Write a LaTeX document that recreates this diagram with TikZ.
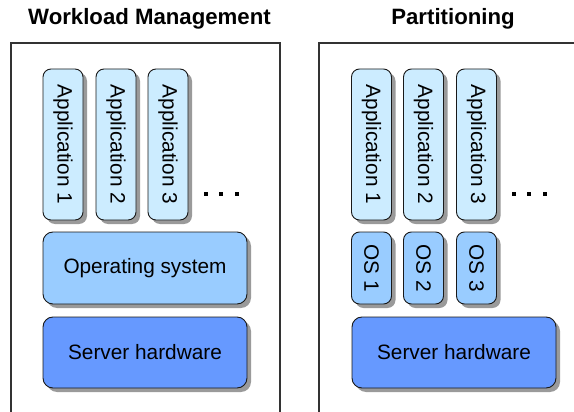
\documentclass[tikz,border=0pt]{standalone}
\usepackage{fontspec}
\setmainfont{Liberation Sans}
\usetikzlibrary{shadows}
\definecolor{appblue}{HTML}{CCECFF}
\definecolor{osblue}{HTML}{99CCFF}
\definecolor{hwblue}{HTML}{6699FF}
\definecolor{shadowgray}{HTML}{9A9A9A}
\definecolor{framegray}{HTML}{333333}
\tikzset{
  layer/.style={draw=black!90, line width=0.9pt, rounded corners=8pt, inner sep=0pt,
    font=\fontsize{20.8}{25}\selectfont,
    drop shadow={shadow xshift=4pt, shadow yshift=-4pt, fill=shadowgray, opacity=1}},
  appbox/.style={layer, fill=appblue, minimum width=40pt, minimum height=151pt},
  osbox/.style={layer, fill=osblue, minimum width=40pt, minimum height=72pt},
  bigos/.style={layer, fill=osblue, rounded corners=10pt, minimum width=204pt, minimum height=72pt},
  hwbox/.style={layer, fill=hwblue, rounded corners=10pt, minimum width=204pt, minimum height=71pt},
  title/.style={font=\fontsize{22.2}{26}\selectfont\bfseries, anchor=base},
  frame/.style={draw=framegray, line width=1.2pt},
  dot/.style={fill=black, minimum size=4pt, inner sep=0pt}
}
\begin{document}
\begin{tikzpicture}[x=1pt, y=-1pt]
\useasboundingbox (0,0) rectangle (574,412);
% frames
\draw[frame] (11,413) -- (11,43) -- (280,43) -- (280,413);
\draw[frame] (319,413) -- (319,43) -- (575,43);
% titles
\node[title] (t1) at (149.5,25) {Workload Management};
\node[title] (t2) at (453,25) {Partitioning};
% left: workload management
\node[appbox] (la1) at (63,144.5) {\rotatebox{-90}{Application 1}};
\node[appbox] (la2) at (116,144.5) {\rotatebox{-90}{Application 2}};
\node[appbox] (la3) at (168,144.5) {\rotatebox{-90}{Application 3}};
\node[bigos] (los) at (145,268) {Operating system};
\node[hwbox] (lhw) at (145,352.5) {Server hardware};
\node[dot] (ld1) at (206,194) {};
\node[dot] (ld2) at (221,194) {};
\node[dot] (ld3) at (237,194) {};
% right: partitioning
\node[appbox] (ra1) at (371.5,144.5) {\rotatebox{-90}{Application 1}};
\node[appbox] (ra2) at (423.5,144.5) {\rotatebox{-90}{Application 2}};
\node[appbox] (ra3) at (476.5,144.5) {\rotatebox{-90}{Application 3}};
\node[osbox] (ro1) at (371.5,268) {\rotatebox{-90}{OS 1}};
\node[osbox] (ro2) at (423.5,268) {\rotatebox{-90}{OS 2}};
\node[osbox] (ro3) at (476.5,268) {\rotatebox{-90}{OS 3}};
\node[hwbox] (rhw) at (454,352.5) {Server hardware};
\node[dot] (rd1) at (514,194) {};
\node[dot] (rd2) at (529,194) {};
\node[dot] (rd3) at (545,194) {};
\end{tikzpicture}
\end{document}
